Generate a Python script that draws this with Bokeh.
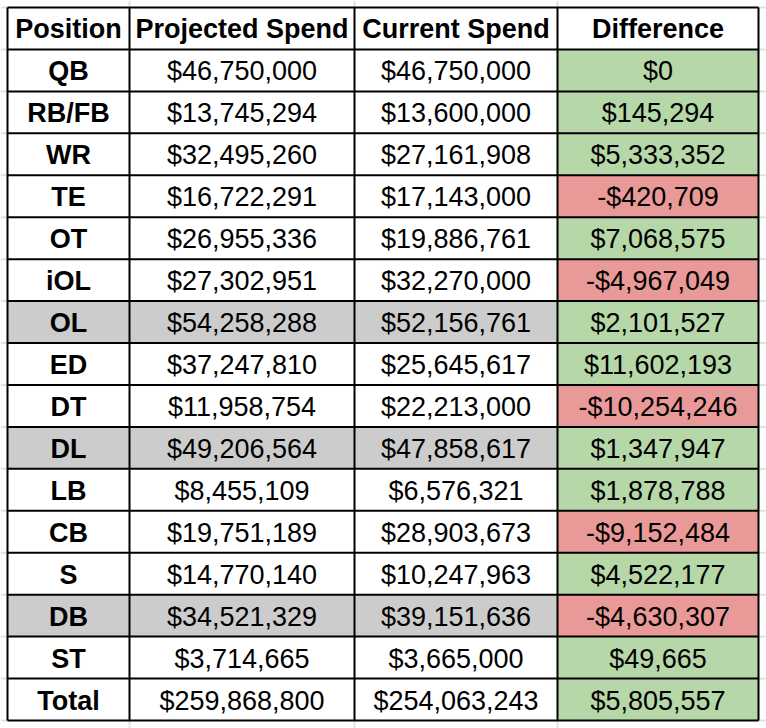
from bokeh.plotting import figure
from bokeh.models import Range1d
from bokeh.embed import file_html
from bokeh.resources import INLINE
from bokeh.core.properties import value

headers = ["Position", "Projected Spend", "Current Spend", "Difference"]
positions = ["QB", "RB/FB", "WR", "TE", "OT", "iOL", "OL", "ED", "DT", "DL",
             "LB", "CB", "S", "DB", "ST", "Total"]
projected = [46750000, 13745294, 32495260, 16722291, 26955336, 27302951, 54258288,
             37247810, 11958754, 49206564, 8455109, 19751189, 14770140, 34521329,
             3714665, 259868800]
current = [46750000, 13600000, 27161908, 17143000, 19886761, 32270000, 52156761,
           25645617, 22213000, 47858617, 6576321, 28903673, 10247963, 39151636,
           3665000, 254063243]
difference = [0, 145294, 5333352, -420709, 7068575, -4967049, 2101527, 11602193,
              -10254246, 1347947, 1878788, -9152484, 4522177, -4630307, 49665, 5805557]
group_rows = ["OL", "DL", "DB"]


def money(v):
    return ("-$" if v < 0 else "$") + f"{abs(v):,}"


# layout (pixel coordinates of the picture)
col_edges = [7, 129, 354, 557, 758]
top, bottom = 7, 720
n_rows = len(positions) + 1
row_h = (bottom - top) / n_rows

W, H = 766, 728
p = figure(width=W, height=H, output_backend="svg", toolbar_location=None,
           x_range=Range1d(0, W), y_range=Range1d(H, 0),
           min_border=0, outline_line_color=None)
p.axis.visible = False
p.grid.visible = False
p.background_fill_color = "white"

GREEN, RED, GRAY = "#b6d7a8", "#ea9999", "#cccccc"
FAINT = "#e2e2e2"

# faint spreadsheet grid outside the table
fx0, fy0, fx1, fy1 = [], [], [], []
for x in col_edges[1:-1]:
    fx0 += [x, x]; fx1 += [x, x]; fy0 += [0, bottom]; fy1 += [top, H]
for k in range(n_rows + 1):
    y = top + k * row_h
    fx0 += [0, col_edges[-1]]; fx1 += [col_edges[0], W]; fy0 += [y, y]; fy1 += [y, y]
p.segment(x0=fx0, y0=fy0, x1=fx1, y1=fy1, line_color=FAINT, line_width=2)

# cell fills
l, r, t, b, c = [], [], [], [], []
for i, pos in enumerate(positions):
    y0 = top + (i + 1) * row_h
    y1 = y0 + row_h
    if pos in group_rows:
        l.append(col_edges[0]); r.append(col_edges[3]); t.append(y0); b.append(y1); c.append(GRAY)
    l.append(col_edges[3]); r.append(col_edges[4]); t.append(y0); b.append(y1)
    c.append(RED if difference[i] < 0 else GREEN)
p.quad(left=l, right=r, top=t, bottom=b, fill_color=c, line_color=None)

# table lines
xs0, ys0, xs1, ys1 = [], [], [], []
for k in range(n_rows + 1):
    y = top + k * row_h
    xs0.append(col_edges[0]); xs1.append(col_edges[-1]); ys0.append(y); ys1.append(y)
for x in col_edges:
    xs0.append(x); xs1.append(x); ys0.append(top); ys1.append(bottom)
p.segment(x0=xs0, y0=ys0, x1=xs1, y1=ys1, line_color="black", line_width=2)

# texts
centers = [(col_edges[j] + col_edges[j + 1]) / 2 for j in range(4)]
font = value("Liberation Sans")
p.text(x=centers, y=[top + row_h / 2 + 1] * 4, text=headers, text_font=font,
       text_font_size="27px", text_font_style="bold", text_align="center",
       text_baseline="middle", text_color="black")

ry = [top + (i + 1.5) * row_h + 1 for i in range(len(positions))]
p.text(x=[centers[0]] * len(positions), y=ry, text=positions, text_font=font,
       text_font_size="27px", text_font_style="bold", text_align="center",
       text_baseline="middle", text_color="black")
for j, vals in zip([1, 2, 3], [projected, current, difference]):
    p.text(x=[centers[j]] * len(vals), y=ry, text=[money(v) for v in vals],
           text_font=font, text_font_size="27px", text_align="center",
           text_baseline="middle", text_color="black")

open("out.html", "w").write(file_html(p, INLINE))
